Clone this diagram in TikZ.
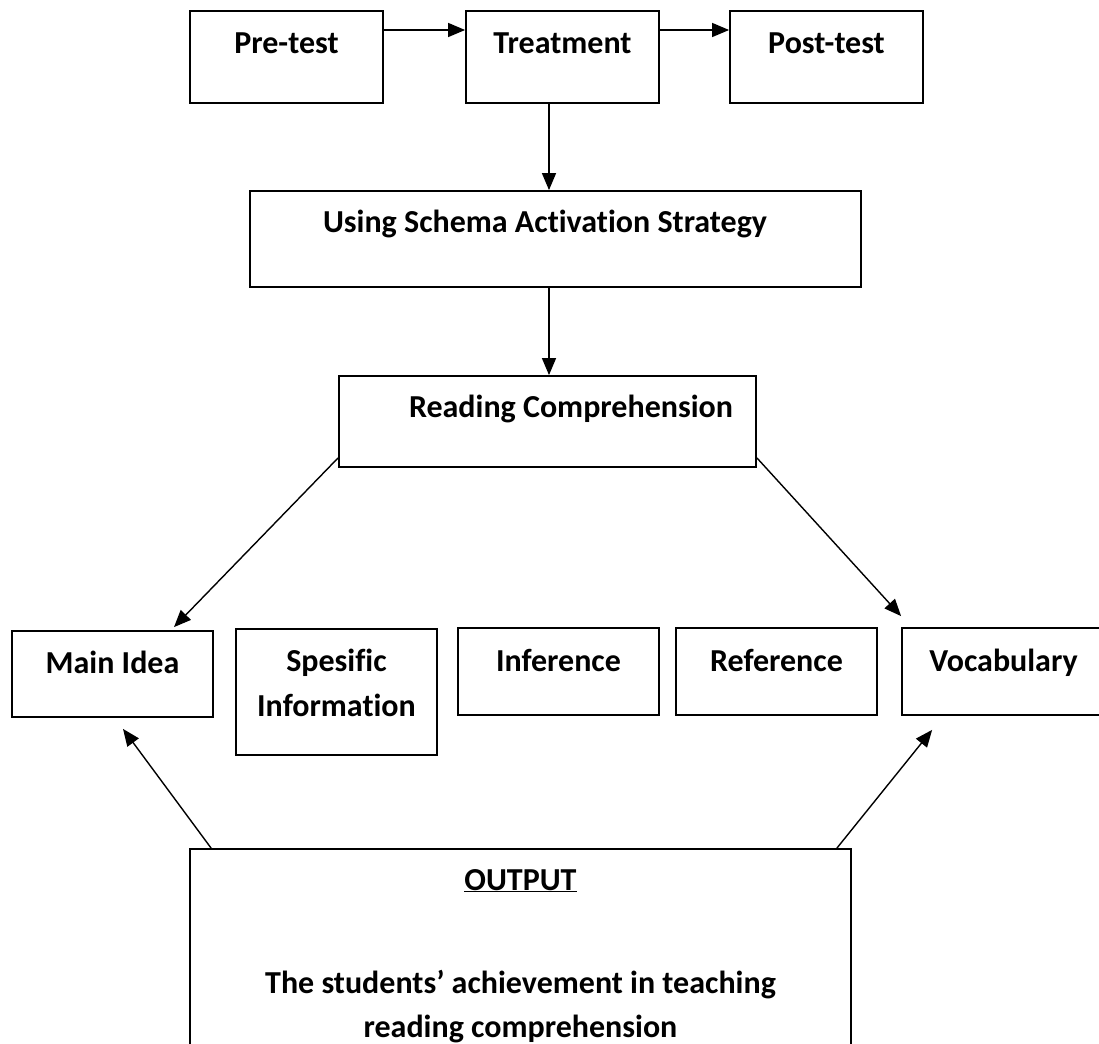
\documentclass[tikz,border=0pt]{standalone}
\usepackage{fontspec}
\setmainfont[Ligatures=NoCommon]{Carlito}
\usetikzlibrary{arrows.meta}
\begin{document}
\begin{tikzpicture}[x=1pt,y=-1pt,
  box/.style={draw, line width=1.8pt, rectangle, inner sep=0pt},
  lbl/.style={anchor=base, inner sep=0pt, font=\fontsize{32}{45}\selectfont\bfseries},
  arr/.style={line width=1.4pt, -{Triangle[length=17pt,width=14pt]}}]
\useasboundingbox (0,0) rectangle (1099,1043);
\clip (0,0) rectangle (1099,1043);
\fill[white] (0,0) rectangle (1099,1043);
% boxes
\node[box, minimum width=193pt, minimum height=92pt] (pre) at (286.5,57) {};
\node[box, minimum width=193pt, minimum height=92pt] (treat) at (562.5,57) {};
\node[box, minimum width=193pt, minimum height=92pt] (post) at (826.5,57) {};
\node[box, minimum width=611pt, minimum height=96pt] (schema) at (555.5,239) {};
\node[box, minimum width=417pt, minimum height=91pt] (rc) at (547.5,421.5) {};
\node[box, minimum width=201pt, minimum height=86pt] (main) at (112.5,674) {};
\node[box, minimum width=201pt, minimum height=126pt] (spes) at (336.5,692) {};
\node[box, minimum width=201pt, minimum height=87pt] (inf) at (558.5,671.5) {};
\node[box, minimum width=201pt, minimum height=87pt] (ref) at (776.5,671.5) {};
\node[box, minimum width=203pt, minimum height=87pt] (vocab) at (1003.5,671.5) {};
\node[box, minimum width=661pt, minimum height=211pt] (out) at (520.5,954.5) {};
% labels
\node[lbl] (pretext) at (286.5,54) {Pre-test};
\node[lbl] (treattext) at (562.5,54) {Treatment};
\node[lbl] (posttext) at (826.5,54) {Post-test};
\node[lbl] (schematext) at (545,232) {Using Schema Activation Strategy};
\node[lbl] (rctext) at (571,417) {Reading Comprehension};
\node[lbl] (maintext) at (112.5,673) {Main Idea};
\node[lbl] (spestexta) at (336.5,671) {Spesific};
\node[lbl] (spestextb) at (336.5,716) {Information};
\node[lbl] (inftext) at (558.5,671) {Inference};
\node[lbl] (reftext) at (776.5,671) {Reference};
\node[lbl] (vocabtext) at (1003.5,671) {Vocabulary};
\node[lbl] (outtitle) at (520.5,890) {\underline{OUTPUT}};
\node[lbl] (outa) at (520.5,993) {The students’ achievement in teaching};
\node[lbl] (outb) at (520.5,1037) {reading comprehension};
% connectors
\draw[arr] ([yshift=27pt]pre.east) -- ([yshift=27pt]treat.west);
\draw[arr] ([yshift=27pt]treat.east) -- ([yshift=27pt]post.west);
\draw[arr] ([xshift=-13.5pt]treat.south) -- ([xshift=-6.5pt]schema.north);
\draw[arr] ([xshift=-6.5pt]schema.south) -- ([xshift=1.5pt]rc.north);
\draw[arr] ([yshift=10pt]rc.south west) -- ([xshift=61.5pt,yshift=3pt]main.north);
\draw[arr] ([yshift=10pt]rc.south east) -- ([yshift=11pt]vocab.north west);
\draw[arr] ([xshift=22pt]out.north west) -- ([xshift=10.5pt,yshift=-11pt]main.south);
\draw[arr] ([xshift=-15pt]out.north east) -- ([xshift=31pt,yshift=-14pt]vocab.south west);
\end{tikzpicture}
\end{document}
